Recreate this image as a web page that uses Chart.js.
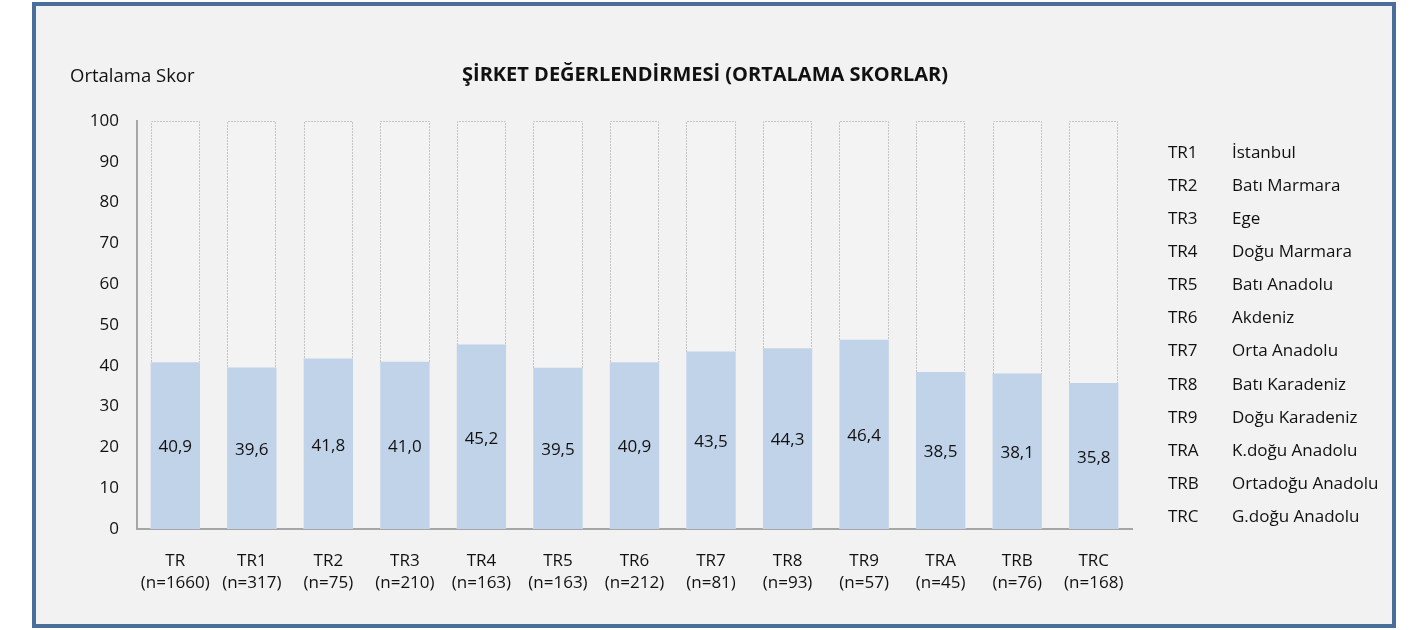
<!DOCTYPE html>
<html>
<head>
<meta charset="utf-8">
<script src="https://cdn.jsdelivr.net/npm/chart.js@4/dist/chart.umd.min.js"></script>
<style>
  body { margin: 0; background: #ffffff; }
  #cerceve {
    position: absolute; left: 32px; top: 2px; width: 1356px; height: 618px;
    border: 4px solid #4a6e9a; background: #f2f2f2;
  }
  #grafikCanvas { position: absolute; left: 0; top: 0; }
</style>
</head>
<body>
<div id="cerceve"></div>
<canvas id="grafikCanvas" width="1423" height="630"></canvas>
<script>
// VERILER
const bolgeKodlari = ['TR', 'TR1', 'TR2', 'TR3', 'TR4', 'TR5', 'TR6', 'TR7', 'TR8', 'TR9', 'TRA', 'TRB', 'TRC']
const orneklem = ['(n=1660)', '(n=317)', '(n=75)', '(n=210)', '(n=163)', '(n=163)', '(n=212)', '(n=81)', '(n=93)', '(n=57)', '(n=45)', '(n=76)', '(n=168)']
const ortalamaSkor = [40.9, 39.6, 41.8, 41.0, 45.2, 39.5, 40.9, 43.5, 44.3, 46.4, 38.5, 38.1, 35.8]
const maksimumSkor = [100, 100, 100, 100, 100, 100, 100, 100, 100, 100, 100, 100, 100]
const yTikler = [0, 10, 20, 30, 40, 50, 60, 70, 80, 90, 100]

const lejantKod = ['TR1', 'TR2', 'TR3', 'TR4', 'TR5', 'TR6', 'TR7', 'TR8', 'TR9', 'TRA', 'TRB', 'TRC']
const lejantAd = ['İstanbul', 'Batı Marmara', 'Ege', 'Doğu Marmara', 'Batı Anadolu', 'Akdeniz',
  'Orta Anadolu', 'Batı Karadeniz', 'Doğu Karadeniz', 'K.doğu Anadolu', 'Ortadoğu Anadolu', 'G.doğu Anadolu']

const baslik = 'ŞİRKET DEĞERLENDİRMESİ (ORTALAMA SKORLAR)'
const eksenBasligi = 'Ortalama Skor'

const yazi = "'Open Sans', sans-serif"

// noktali kutular: mavi cubugun ustunden 100'e kadar
const noktaliKutu = {
  id: 'noktaliKutu',
  afterDatasetsDraw(chart) {
    const ctx = chart.ctx
    const ustler = chart.getDatasetMeta(0).data
    ctx.save()
    ctx.strokeStyle = '#c4c4c4'
    ctx.lineWidth = 1
    ctx.setLineDash([2, 1])
    chart.getDatasetMeta(1).data.forEach((el, i) => {
      const x0 = Math.round(el.x - el.width / 2) + 0.5
      const x1 = Math.round(el.x + el.width / 2) - 0.5
      const y0 = Math.round(el.y) + 0.5
      const y1 = Math.round(ustler[i].y)
      ctx.beginPath()
      ctx.moveTo(x0, y1)
      ctx.lineTo(x0, y0)
      ctx.lineTo(x1, y0)
      ctx.lineTo(x1, y1)
      ctx.stroke()
    })
    ctx.restore()
  }
}

// degerler, basliklar ve lejant
const yazilar = {
  id: 'yazilar',
  afterDatasetsDraw(chart) {
    const ctx = chart.ctx
    ctx.save()
    ctx.fillStyle = '#111111'
    ctx.textBaseline = 'middle'

    ctx.font = '17px ' + yazi
    ctx.textAlign = 'center'
    chart.getDatasetMeta(0).data.forEach((el, i) => {
      ctx.fillText(ortalamaSkor[i].toFixed(1).replace('.', ','), el.x, (el.y + el.base) / 2 + 2)
    })

    ctx.font = 'bold 20px ' + yazi
    ctx.fillText(baslik, 705, 75)

    ctx.font = '18.5px ' + yazi
    ctx.textAlign = 'left'
    ctx.fillText(eksenBasligi, 70, 77)

    ctx.font = '17px ' + yazi
    lejantKod.forEach((kod, i) => {
      const y = 153 + i * 33.1
      ctx.fillText(kod, 1168, y)
      ctx.fillText(lejantAd[i], 1232, y)
    })
    ctx.restore()
  }
}

const ctx = document.getElementById('grafikCanvas').getContext('2d')

const grafik = new Chart(ctx, {
  type: 'bar',
  data: {
    labels: bolgeKodlari.map((k, i) => [k, orneklem[i]]),
    datasets: [{
      data: ortalamaSkor,
      backgroundColor: '#c0d3e9',
      order: 1
    },
    {
      data: maksimumSkor,
      backgroundColor: '#f3f3f3',
      order: 2
    }]
  },
  options: {
    responsive: false,
    animation: false,
    layout: {
      padding: { left: 70, right: 291, top: 121, bottom: 21 }
    },
    datasets: {
      bar: {
        grouped: false,
        categoryPercentage: 1,
        barPercentage: 0.645
      }
    },
    scales: {
      x: {
        grid: { display: false, drawTicks: false },
        border: { color: '#a6a6a6', width: 2 },
        ticks: {
          color: '#111111',
          padding: 21,
          maxRotation: 0,
          autoSkip: false,
          font: { family: yazi, size: 17, lineHeight: 1.3 }
        },
        afterFit(scale) { scale.height = 80 }
      },
      y: {
        min: 0,
        max: 100,
        afterBuildTicks(scale) { scale.ticks = yTikler.map(v => ({ value: v })) },
        grid: { display: false, drawTicks: false },
        border: { color: '#a6a6a6', width: 2 },
        ticks: {
          color: '#111111',
          padding: 18,
          font: { family: yazi, size: 17 }
        },
        afterFit(scale) { scale.width = 67 }
      }
    },
    plugins: {
      legend: { display: false },
      tooltip: { enabled: false }
    }
  },
  plugins: [noktaliKutu, yazilar]
})
</script>
</body>
</html>
